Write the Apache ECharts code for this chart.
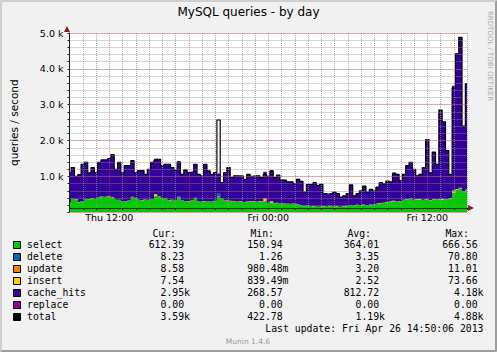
<!DOCTYPE html>
<html>
<head>
<meta charset="utf-8">
<script src="https://cdn.jsdelivr.net/npm/echarts@6/dist/echarts.min.js"></script>
<style>
    html, body { margin: 0; padding: 0; background: #f1f1f1; }
    #chart { width: 497px; height: 352px; }
</style>
</head>
<body>
<div id="chart"></div>
<script>
// ============================================
// MySQL queries - by day (munin style)
// ============================================

// time axis: one reading every 15 minutes, Thu 09:00 .. Fri 15:00
const startHour = 9;
const stepMinutes = 15;
const xTickNames = ['Thu 12:00', 'Fri 00:00', 'Fri 12:00'];

// y axis (rrdtool cut the axis off at ~120, just above zero)
const yCut = 120;
const yMax = 5000;
const yMajorStep = 1000;
const yMinorStep = 200;

// queries / second
const selectQ = [
    255,370,360,280,290,370,360,380,370,420, 430,425,440,420,350,340,310,300,320,425,
    400,340,330,350,340,350,450,440,400,390, 330,340,320,420,330,310,300,330,400,300,
    290,310,300,290,310,440,380,320,330,310, 300,290,300,280,290,300,310,290,300,310,
    260,270,250,260,240,250,240,230,250,220, 200,170,180,160,170,160,155,170,160,180,
    160,170,151,165,180,200,190,210,200,210, 200,220,210,240,250,260,280,300,310,290,
    300,340,350,380,340,350,360,340,350,330, 360,340,350,360,350,380,540,630,666,560,
    612
];
const deleteQ = [
    3,3,4,3,3,4,3,3,3,4, 3,4,3,3,4,3,3,3,4,3,
    3,3,4,3,3,3,4,3,3,4, 3,3,3,4,3,3,4,3,3,3,
    4,3,3,3,4,71,3,3,3,4, 3,3,3,4,3,3,3,4,3,3,
    3,3,3,2,3,2,2,3,2,2, 2,2,2,1.3,2,2,1.5,2,2,1.5,
    2,1.5,2,2,2,2,2,3,2,3, 3,3,3,3,3,4,3,4,4,4,
    4,4,4,5,4,5,4,5,5,5, 5,5,6,6,5,6,7,8,8,7,
    8.23
];
const updateQ = [
    3,3,3,4,3,3,3,11,3,3, 3,4,3,3,3,4,3,3,3,4,
    3,3,4,3,3,3,10,3,3,4, 3,3,3,4,3,3,9,3,3,3,
    4,3,3,3,4,3,3,3,3,4, 10,3,3,3,4,3,3,3,4,3,
    3,3,2,3,9,2,2,3,2,2, 2,2,8,1,2,2,1,2,2,1,
    2,1,2,2,1,2,2,2,2,3, 2,3,3,3,3,3,3,3,4,4,
    4,4,4,4,4,9,4,5,5,5, 5,5,6,6,5,6,11,8,8,7,
    8.58
];
const insertQ = [
    2,2,3,2,2,3,2,2,2,3, 2,3,2,2,3,2,2,2,3,2,
    2,2,3,2,2,2,40,2,2,3, 2,2,2,3,2,2,3,2,2,2,
    3,2,2,2,3,2,2,2,2,3, 2,2,2,3,2,2,2,3,2,74,
    2,30,2,2,2,1,1,2,1,1, 1,1,1,0.84,1,1,1,1,1,1,
    1,1,1,1,1,1,1,2,1,2, 2,2,2,2,2,2,2,2,3,3,
    3,3,3,3,3,3,3,3,4,4, 4,4,4,4,4,4,50,6,6,6,
    7.54
];
const cacheHits = [
    836,871,631,761,1041,1011,731,861,721,961, 1021,1026,1051,1181,841,1041,781,991,971,1006,
    691,811,821,701,851,1031,991,1031,891,941, 1001,901,851,981,721,866,801,781,931,751,
    716,1021,846,761,791,566,436,781,911,646, 706,716,706,631,761,691,696,716,656,741,
    731,871,706,771,651,641,601,611,541,691, 651,381,586,611,646,581,621,341,341,331,
    391,341,269,286,331,556,270,301,391,511, 351,411,371,451,566,521,581,541,771,761,
    571,711,941,1001,851,656,691,901,1671,761, 1311,991,2491,2151,1361,671,2921,3781,4180,1831,
    2954
];
const replaceQ = [
    0,0,0,0,0,0,0,0,0,0, 0,0,0,0,0,0,0,0,0,0,
    0,0,0,0,0,0,0,0,0,0, 0,0,0,0,0,0,0,0,0,0,
    0,0,0,0,0,0,0,0,0,0, 0,0,0,0,0,0,0,0,0,0,
    0,0,0,0,0,0,0,0,0,0, 0,0,0,0,0,0,0,0,0,0,
    0,0,0,0,0,0,0,0,0,0, 0,0,0,0,0,0,0,0,0,0,
    0,0,0,0,0,0,0,0,0,0, 0,0,0,0,0,0,0,0,0,0,
    0
];
const totalQ = [
    1100,1250,1000,1050,1340,1390,1100,1250,1100,1390, 1460,1460,1500,1610,1200,1390,1100,1300,1300,1440,
    1100,1160,1160,1060,1200,1390,1450,1480,1300,1340, 1340,1250,1180,1410,1060,1185,1110,1120,1340,1060,
    1015,1340,1155,1060,1110,2575,825,1110,1250,965, 1015,1015,1015,920,1060,1000,1015,1015,965,1060,
    1000,1150,965,1040,900,900,850,850,800,920, 860,560,775,780,825,750,780,520,510,520,
    560,520,425,460,520,765,460,520,600,730, 560,640,590,700,825,790,870,850,1090,1060,
    880,1060,1300,1390,1200,1015,1060,1250,2030,1100, 1680,1340,2850,2520,1720,1060,3470,4420,4880,2400,
    3590
];

// legend table
const legendNames = ['select', 'delete', 'update', 'insert', 'cache_hits', 'replace', 'total'];
const legendColors = ['#00cc00', '#0066b3', '#ff8000', '#ffcc00', '#330099', '#990099', '#000000'];
const legendCur = ['612.39', '8.23', '8.58', '7.54', '2.95k', '0.00', '3.59k'];
const legendMin = ['150.94', '1.26', '980.48m', '839.49m', '268.57', '0.00', '422.78'];
const legendAvg = ['364.01', '3.35', '3.20', '2.52', '812.72', '0.00', '1.19k'];
const legendMax = ['666.56', '70.80', '11.01', '73.66', '4.18k', '0.00', '4.88k'];
const legendHeaders = ['Cur:', 'Min:', 'Avg:', 'Max:'];
const lastUpdate = 'Last update: Fri Apr 26 14:50:06 2013';

// --------------------------------------------

const GRID_MINOR = 'rgba(143,143,143,0.75)';
const GRID_MAJOR = 'rgba(222,79,79,0.6)';
const AXIS_COLOR = '#1f1f1f';
const ARROW_COLOR = '#801f1f';
const BG = '#f1f1f1';
const MONO = '"DejaVu Sans Mono", monospace';
const SANS = '"DejaVu Sans", sans-serif';

// plot box in pixels
const plotLeft = 67, plotRight = 467, plotTop = 33, axisY = 208;
const pxPerUnit = (axisY - plotTop) / (yMax - yCut);
const zeroY = axisY + yCut * pxPerUnit;   // where 0 would sit, below the drawn axis

// category names like "Thu 09:00"
function slotName(i) {
    const m = startHour * 60 + i * stepMinutes;
    const day = m >= 24 * 60 ? 'Fri' : 'Thu';
    const hh = Math.floor(m / 60) % 24, mm = m % 60;
    return day + ' ' + String(hh).padStart(2, '0') + ':' + String(mm).padStart(2, '0');
}
const slots = selectQ.map((_, i) => slotName(i));
const hourOf = s => parseInt(s.slice(4, 6), 10);
const isHour = s => s.endsWith(':00');

function areaSeries(name, data, color) {
    return {
        name, type: 'line', stack: 'q', step: 'middle', data: data,
        symbol: 'none', lineStyle: { width: 0 }, areaStyle: { color: color, opacity: 1 },
        itemStyle: { color: color }, silent: true
    };
}

// legend graphics
const graphics = [];
const rowY0 = 244.5, rowStep = 12;
const colRights = [190, 288.5, 385, 483.5];
const headRights = [176, 274, 371, 469];
const columns = [legendCur, legendMin, legendAvg, legendMax];

function txt(x, y, text, align, extra) {
    return {
        type: 'text', x, y, silent: true,
        style: Object.assign({
            text, fill: '#000', fontFamily: MONO, fontSize: 9.8,
            textAlign: align, textVerticalAlign: 'middle', textBaseline: 'middle'
        }, extra || {})
    };
}

legendHeaders.forEach((h, c) => graphics.push(txt(headRights[c], 233.5, h, 'right')));
legendNames.forEach((name, r) => {
    const y = rowY0 + r * rowStep;
    graphics.push({
        type: 'rect', silent: true,
        shape: { x: 13.5, y: Math.round(y) - 3.5, width: 7, height: 7 },
        style: { fill: legendColors[r], stroke: '#000', lineWidth: 1 }
    });
    graphics.push(txt(27, y, name, 'left'));
    columns.forEach((col, c) => {
        const v = col[r];
        const s = /[a-z]$/i.test(v) ? v : v + '\u00a0';
        graphics.push(txt(colRights[c], y, s, 'right'));
    });
});
graphics.push(txt(483.5, rowY0 + 7 * rowStep, lastUpdate, 'right'));
graphics.push(txt(248, 341, 'Munin 1.4.6', 'center', { fontFamily: SANS, fontSize: 7.5, fill: '#999' }));
const rrd = txt(490, 56, 'RRDTOOL / TOBI OETIKER', 'center', { fontFamily: SANS, fontSize: 7, fill: '#aaa' });
rrd.rotation = -Math.PI / 2;
graphics.push(rrd);

// strip that hides the part of the plot below the cut-off axis
graphics.push({ type: 'rect', silent: true, z: 3, shape: { x: 40, y: axisY + 0.5, width: 440, height: Math.ceil(zeroY - axisY) + 1 }, style: { fill: BG } });

// axis arrows
graphics.push({ type: 'polygon', silent: true, z: 10, shape: { points: [[64, 32], [70, 32], [67, 26]] }, style: { fill: ARROW_COLOR } });
graphics.push({ type: 'polygon', silent: true, z: 10, shape: { points: [[468, axisY - 3], [468, axisY + 3], [474, axisY]] }, style: { fill: ARROW_COLOR } });

// frame (shade A top/left, shade B bottom/right)
graphics.push({ type: 'polygon', silent: true, shape: { points: [[0, 0], [497, 0], [495, 2], [2, 2]] }, style: { fill: '#cfcfcf' } });
graphics.push({ type: 'polygon', silent: true, shape: { points: [[0, 0], [2, 2], [2, 350], [0, 352]] }, style: { fill: '#cfcfcf' } });
graphics.push({ type: 'polygon', silent: true, shape: { points: [[0, 352], [2, 350], [495, 350], [497, 352]] }, style: { fill: '#9e9e9e' } });
graphics.push({ type: 'polygon', silent: true, shape: { points: [[497, 0], [497, 352], [495, 350], [495, 2]] }, style: { fill: '#9e9e9e' } });

const chart = echarts.init(document.getElementById('chart'), null, { renderer: 'svg' });

const dotted = color => ({ type: [1, 1], width: 1, color: color });
const hidden = { axisLine: { show: false }, axisTick: { show: false }, axisLabel: { show: false } };

chart.setOption({
    backgroundColor: BG,
    animation: false,
    title: {
        text: 'MySQL queries - by day',
        left: 'center', top: 6, padding: 0,
        textStyle: { fontFamily: SANS, fontSize: 12, fontWeight: 'normal', color: '#000' }
    },
    grid: {
        left: plotLeft, right: 497 - plotRight, top: plotTop, bottom: 352 - zeroY,
        show: true, backgroundColor: '#ffffff', borderWidth: 0
    },
    xAxis: [
        {
            type: 'category', data: slots, boundaryGap: false, z: 5,
            offset: axisY - zeroY,
            axisLine: { onZero: false, lineStyle: { color: AXIS_COLOR, width: 1 } },
            axisTick: { show: true, length: 2, interval: i => isHour(slots[i]), lineStyle: { color: AXIS_COLOR } },
            splitLine: { show: true, interval: i => i > 0 && isHour(slots[i]) && hourOf(slots[i]) % 6 !== 0, lineStyle: dotted(GRID_MINOR) },
            axisLabel: {
                margin: 4, color: '#000', fontFamily: SANS, fontSize: 9.5,
                interval: i => xTickNames.indexOf(slots[i]) >= 0,
                formatter: v => v
            }
        },
        Object.assign({
            type: 'category', data: slots, boundaryGap: false, z: 6, position: 'bottom',
            splitLine: { show: true, interval: i => i > 0 && isHour(slots[i]) && hourOf(slots[i]) % 6 === 0, lineStyle: dotted(GRID_MAJOR) }
        }, hidden)
    ],
    yAxis: [
        {
            type: 'value', min: 0, max: yMax, interval: yMinorStep, z: 5,
            name: 'queries / second', nameLocation: 'middle', nameGap: 56,
            nameTextStyle: { fontFamily: SANS, fontSize: 10.5, color: '#000', verticalAlign: 'middle' },
            axisLine: { show: true, lineStyle: { color: AXIS_COLOR, width: 1 } },
            axisTick: { show: true, length: 2, lineStyle: { color: AXIS_COLOR } },
            splitLine: { show: true, lineStyle: dotted(GRID_MINOR) },
            axisLabel: {
                margin: 6, color: '#000', fontFamily: SANS, fontSize: 9.5,
                formatter: v => (v > 0 && v % yMajorStep === 0) ? (v / 1000).toFixed(1) + ' k' : ''
            }
        },
        Object.assign({
            type: 'value', min: 0, max: yMax, interval: yMajorStep, z: 6, position: 'left',
            splitLine: { show: true, lineStyle: dotted(GRID_MAJOR) }
        }, hidden)
    ],
    series: [
        areaSeries('select', selectQ, legendColors[0]),
        areaSeries('delete', deleteQ, legendColors[1]),
        areaSeries('update', updateQ, legendColors[2]),
        areaSeries('insert', insertQ, legendColors[3]),
        areaSeries('cache_hits', cacheHits, legendColors[4]),
        areaSeries('replace', replaceQ, legendColors[5]),
        {
            name: 'total', type: 'line', step: 'middle', data: totalQ,
            symbol: 'none', lineStyle: { color: '#000', width: 1.2 }, silent: true
        }
    ],
    graphic: graphics
});
</script>
</body>
</html>
